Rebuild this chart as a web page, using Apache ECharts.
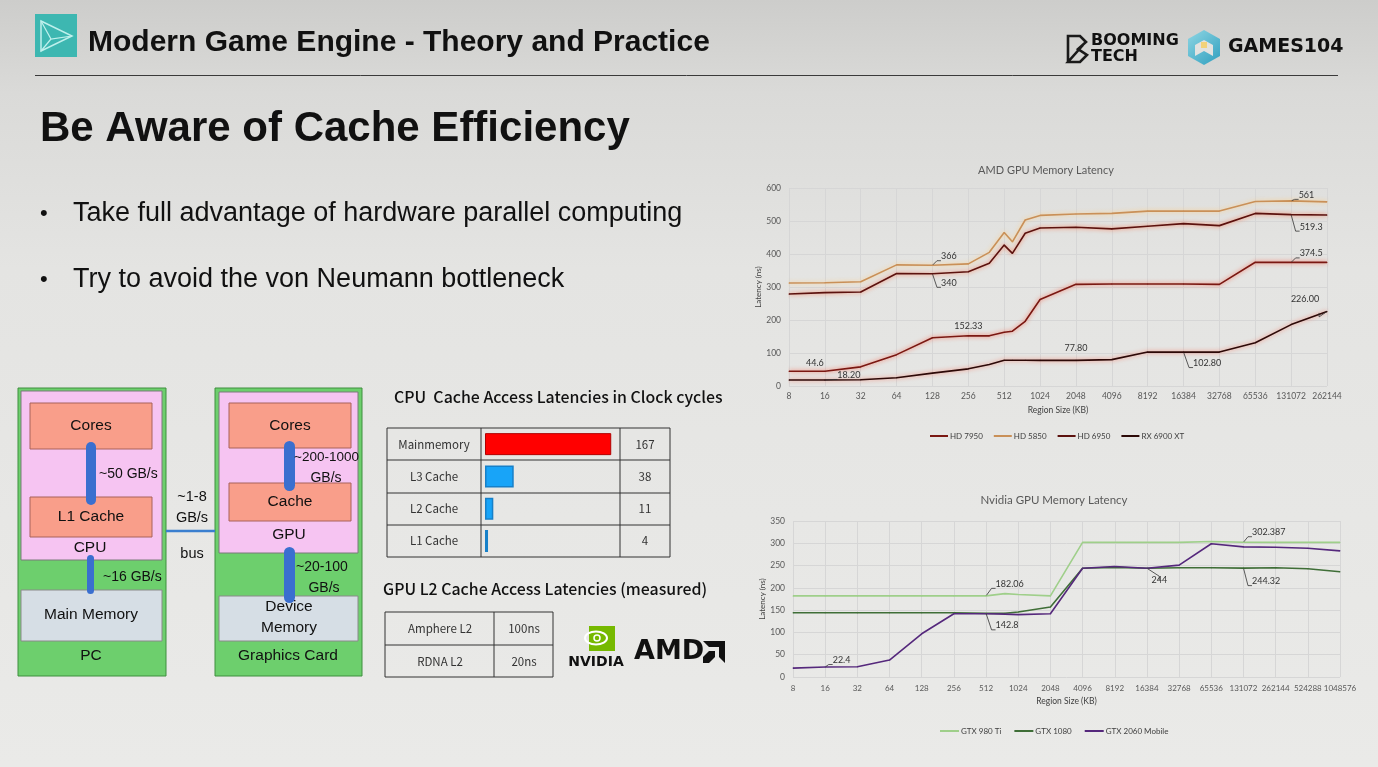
<!DOCTYPE html>
<html lang="en">
<head>
<meta charset="UTF-8">
<title>Be Aware of Cache Efficiency</title>
<script src="https://cdn.jsdelivr.net/npm/echarts@6/dist/echarts.min.js"></script>
<style>
    html, body { margin: 0; padding: 0; }
    body {
        width: 1378px; height: 767px; overflow: hidden;
        background: linear-gradient(180deg, #cdcdcb 0%, #dadad8 12%, #e4e4e2 35%, #eaeae8 100%);
    }
    #slide { width: 1378px; height: 767px; }
</style>
</head>
<body>
<div id="slide"></div>
<script>
// ---- AMD GPU memory latency (ns) ----
const amdSizes = [8, 16, 32, 64, 128, 256, 384, 512, 600, 768, 1024, 2048, 4096, 8192, 16384, 32768, 65536, 131072, 262144];
const hd7950 = [44.6, 44.6, 58, 95, 146, 152.33, 152, 163, 166, 196, 262, 308, 309, 309, 309, 308, 375, 374.5, 374.5];
const hd5850 = [312, 313, 316, 367, 366, 370, 405, 465, 437, 503, 517, 521, 523, 530, 530, 530, 559, 561, 558];
const hd6950 = [279, 283, 285, 341, 340, 346, 372, 427, 402, 463, 479, 481, 476, 484, 492, 486, 523, 519.3, 518];
const rx6900 = [18.2, 18.2, 19, 25, 39, 52, 65, 78, 78, 78, 77.8, 77.8, 80, 102.8, 102.8, 102.8, 131, 186, 226];

// ---- Nvidia GPU memory latency (ns) ----
const nvSizes = [8, 16, 32, 64, 128, 256, 512, 768, 1024, 2048, 4096, 8192, 16384, 32768, 65536, 131072, 262144, 524288, 1048576];
const gtx980 = [182, 182, 182, 182, 182, 182, 182.06, 187, 185, 182, 302, 302, 302, 302, 304, 302.387, 302, 302, 302];
const gtx1080 = [144, 144, 144, 144, 144, 144, 142.8, 143, 146, 157, 244, 246, 244, 245, 245, 244.32, 245, 243, 236];
const gtx2060 = [20, 22.4, 23, 38, 97, 142, 142, 141, 140, 142, 244, 248, 244, 251, 299, 292, 291, 289, 283];

// ---- CPU cache latencies (clock cycles) ----
const cpuLevels = ['Mainmemory', 'L3 Cache', 'L2 Cache', 'L1 Cache'];
const cpuCycles = [167, 38, 11, 4];

// ---- GPU L2 latencies ----
const gpuL2Names = ['Amphere L2', 'RDNA L2'];
const gpuL2Latency = ['100ns', '20ns'];

const SANS = '"Liberation Sans", Arial, sans-serif';
const CJK = '"Noto Sans CJK SC", "Noto Sans", sans-serif';
const XL = 'Lato, "Open Sans", sans-serif';

const chart = echarts.init(document.getElementById('slide'));

function box(x, y, w, h, fill, stroke, lw) {
    return { type: 'rect', shape: { x: x, y: y, width: w, height: h }, style: { fill: fill, stroke: stroke || null, lineWidth: lw || 1 } };
}
function pill(x, y, w, h) {
    return { type: 'rect', shape: { x: x, y: y, width: w, height: h, r: w / 2 }, style: { fill: '#3a6fcf' } };
}
function line(x1, y1, x2, y2, color, w) {
    return { type: 'line', shape: { x1: x1, y1: y1, x2: x2, y2: y2 }, style: { stroke: color || '#333', lineWidth: w || 1 } };
}
function txt(x, y, text, size, o) {
    o = o || {};
    const align = o.align || 'center';
    return {
        type: 'text', x: x, y: y, z: 10,
        style: {
            text: text, fill: o.color || '#111',
            font: (o.weight || 'normal') + ' ' + size + 'px ' + (o.family || SANS),
            textAlign: align, align: align, textVerticalAlign: 'middle', verticalAlign: 'middle'
        }
    };
}

// callouts: data index -> label placement (Excel style leader labels)
const callouts = {
    'HD 7950': { 1: { pos: 'top', off: [-10, 2], d: 1 }, 5: { pos: 'top', off: [0, 0], d: 2 }, 17: { pos: 'right', off: [3, -9], d: 1, line: true } },
    'HD 5850': { 4: { pos: 'right', off: [3, -9], d: 0, line: true }, 17: { pos: 'right', off: [2, -6], d: 0, line: true } },
    'HD 6950': { 4: { pos: 'right', off: [3, 9], d: 0, line: true }, 17: { pos: 'right', off: [3, 12], d: 1, line: true } },
    'RX 6900 XT': { 1: { pos: 'right', off: [7, -5], d: 2, line: true }, 11: { pos: 'top', off: [0, -2], d: 2 }, 14: { pos: 'right', off: [4, 11], d: 2, line: true }, 18: { pos: 'top', off: [-22, -2], d: 2, line: true } },
    'GTX 980 Ti': { 6: { pos: 'right', off: [4, -12], d: 2, line: true }, 15: { pos: 'right', off: [3, -10], d: 3, line: true } },
    'GTX 1080': { 6: { pos: 'right', off: [4, 12], d: 1, line: true }, 15: { pos: 'right', off: [3, 13], d: 2, line: true } },
    'GTX 2060 Mobile': { 1: { pos: 'right', off: [2, -7], d: 1, line: true }, 12: { pos: 'right', off: [-1, 12], d: 0, line: true } }
};

function lineSeries(name, sizes, vals, color, axis, glow) {
    const marks = callouts[name] || {};
    return {
        type: 'line', name: name, xAxisIndex: axis, yAxisIndex: axis,
        data: vals.map(function (v, i) {
            const item = { value: [Math.log2(sizes[i]), v] };
            const c = marks[i];
            if (c) {
                item.label = { show: true, position: c.pos, offset: c.off, formatter: v.toFixed(c.d) };
                item.labelLine = { show: !!c.line };
            }
            return item;
        }),
        symbol: 'circle', symbolSize: 1, showSymbol: true,
        itemStyle: { color: color },
        lineStyle: { color: color, width: 1.6, shadowColor: glow || 'transparent', shadowBlur: glow ? 4 : 0 },
        label: { fontSize: 9, color: '#333', fontFamily: XL },
        labelLine: { length2: 4, lineStyle: { color: '#333', width: 0.8 } },
        emphasis: { disabled: true }
    };
}

const axisText = { color: '#595959', fontSize: 8.5, fontFamily: XL };
const gridLine = { show: true, lineStyle: { color: '#d6d6d6', width: 1 } };
const pow2 = function (v) { return String(Math.round(Math.pow(2, v))); };

const option = {
    animation: false,
    textStyle: { fontFamily: XL },
    grid: [
        { left: 789, top: 188, width: 538, height: 198 },
        { left: 793, top: 521, width: 547, height: 156 },
        { left: 485, top: 428, width: 130, height: 129 }
    ],
    xAxis: [
        { type: 'value', gridIndex: 0, min: 3, max: 18, interval: 1, axisLabel: Object.assign({ formatter: pow2, margin: 6 }, axisText),
          axisLine: { show: false }, axisTick: { show: false }, splitLine: gridLine,
          name: 'Region Size (KB)', nameLocation: 'middle', nameGap: 20, nameTextStyle: { color: '#404040', fontSize: 8.5, fontFamily: XL } },
        { type: 'value', gridIndex: 1, min: 3, max: 20, interval: 1, axisLabel: Object.assign({ formatter: pow2, margin: 7 }, axisText, { fontSize: 8 }),
          axisLine: { show: false }, axisTick: { show: false }, splitLine: gridLine,
          name: 'Region Size (KB)', nameLocation: 'middle', nameGap: 20, nameTextStyle: { color: '#404040', fontSize: 8.5, fontFamily: XL } },
        { type: 'value', gridIndex: 2, min: 0, max: 172, show: false }
    ],
    yAxis: [
        { type: 'value', gridIndex: 0, min: 0, max: 600, interval: 100, axisLabel: axisText,
          axisLine: { show: false }, axisTick: { show: false }, splitLine: gridLine,
          name: 'Latency (ns)', nameLocation: 'middle', nameGap: 24, nameTextStyle: { color: '#404040', fontSize: 8, fontFamily: XL } },
        { type: 'value', gridIndex: 1, min: 0, max: 350, interval: 50, axisLabel: axisText,
          axisLine: { show: false }, axisTick: { show: false }, splitLine: gridLine,
          name: 'Latency (ns)', nameLocation: 'middle', nameGap: 24, nameTextStyle: { color: '#404040', fontSize: 8, fontFamily: XL } },
        { type: 'category', gridIndex: 2, data: cpuLevels, inverse: true,
          axisLine: { show: false }, axisTick: { show: false },
          axisLabel: { align: 'center', margin: 51, color: '#333', fontSize: 11.5, fontFamily: CJK } },
        { type: 'category', gridIndex: 2, data: cpuCycles.map(String), inverse: true, position: 'right',
          axisLine: { show: false }, axisTick: { show: false },
          axisLabel: { align: 'center', margin: 30, color: '#333', fontSize: 11.5, fontFamily: CJK } }
    ],
    legend: [
        { data: ['HD 7950', 'HD 5850', 'HD 6950', 'RX 6900 XT'], left: 925, top: 427, icon: 'rect', itemWidth: 18, itemHeight: 2, itemGap: 11,
          textStyle: { fontSize: 8, color: '#404040', fontFamily: XL, padding: [0, 0, 0, -3] }, selectedMode: false },
        { data: ['GTX 980 Ti', 'GTX 1080', 'GTX 2060 Mobile'], left: 935, top: 722, icon: 'rect', itemWidth: 19, itemHeight: 2, itemGap: 13,
          textStyle: { fontSize: 8, color: '#404040', fontFamily: XL, padding: [0, 0, 0, -3] }, selectedMode: false }
    ],
    series: [
        lineSeries('HD 7950', amdSizes, hd7950, '#7a1812', 0, 'rgba(255,70,40,0.75)'),
        lineSeries('HD 5850', amdSizes, hd5850, '#c99058', 0, 'rgba(255,205,130,0.9)'),
        lineSeries('HD 6950', amdSizes, hd6950, '#5c120e', 0, 'rgba(255,90,40,0.75)'),
        lineSeries('RX 6900 XT', amdSizes, rx6900, '#2c0907', 0, 'rgba(255,70,40,0.6)'),
        lineSeries('GTX 980 Ti', nvSizes, gtx980, '#9fcf8a', 1),
        lineSeries('GTX 1080', nvSizes, gtx1080, '#3f6e37', 1),
        lineSeries('GTX 2060 Mobile', nvSizes, gtx2060, '#55287c', 1),
        {
            type: 'bar', xAxisIndex: 2, yAxisIndex: 2, barWidth: 22,
            data: cpuCycles.map(function (v, i) {
                return i === 0
                    ? { value: v, itemStyle: { color: '#ff0000', borderColor: '#b00000', borderWidth: 1 } }
                    : { value: v, itemStyle: { color: '#18a4f8', borderColor: '#1780c8', borderWidth: 1.5 } };
            }),
            emphasis: { disabled: true }
        }
    ],
    graphic: []
};

const g = option.graphic;

// header
g.push({ type: 'rect', shape: { x: 35, y: 14, width: 42, height: 43 }, style: { fill: '#3db7b1' } });
g.push({ type: 'polygon', shape: { points: [[41, 21], [72, 36], [41, 51]] }, style: { fill: null, stroke: '#bff0ec', lineWidth: 1.5 } });
g.push({ type: 'polyline', shape: { points: [[41, 21], [51, 39], [72, 36]] }, style: { stroke: '#bff0ec', lineWidth: 1.2 } });
g.push({ type: 'line', shape: { x1: 51, y1: 39, x2: 41, y2: 51 }, style: { stroke: '#bff0ec', lineWidth: 1.2 } });
g.push(txt(88, 43, 'Modern Game Engine - Theory and Practice', 30, { align: 'left', weight: 'bold' }));
g.push(line(35, 75.5, 1338, 75.5, '#3a3a3a', 1));

// Booming Tech + GAMES104 logos
g.push({ type: 'polyline', shape: { points: [[1068, 62], [1068, 36], [1080, 36], [1086, 42], [1078, 49], [1087, 55], [1080, 62], [1068, 62], [1083, 45]] }, style: { stroke: '#1a1a1a', lineWidth: 2.6, fill: null } });
g.push(txt(1091, 41, 'BOOMING', 16, { align: 'left', weight: 'bold', family: '"DejaVu Sans", sans-serif' }));
g.push(txt(1091, 57, 'TECH', 16, { align: 'left', weight: 'bold', family: '"DejaVu Sans", sans-serif' }));
g.push({ type: 'polygon', shape: { points: [[1204, 30], [1220, 39], [1220, 56], [1204, 65], [1188, 56], [1188, 39]] },
         style: { fill: new echarts.graphic.LinearGradient(0, 0, 1, 1, [{ offset: 0, color: '#8fd6e3' }, { offset: 1, color: '#2f9fbf' }]) } });
g.push({ type: 'polygon', shape: { points: [[1204, 40], [1213, 45], [1213, 56], [1204, 51], [1195, 56], [1195, 45]] }, style: { fill: '#e2e2e0' } });
g.push({ type: 'rect', shape: { x: 1201, y: 42, width: 6, height: 6 }, style: { fill: '#f2d27a' } });
g.push(txt(1228, 47, 'GAMES104', 19, { align: 'left', weight: 'bold', family: '"DejaVu Sans", sans-serif' }));

// title and bullets
g.push(txt(40, 129, 'Be Aware of Cache Efficiency', 42, { align: 'left', weight: 'bold' }));
g.push(txt(40, 214, '\u2022', 22, { align: 'left' }));
g.push(txt(73, 214, 'Take full advantage of hardware parallel computing', 27, { align: 'left' }));
g.push(txt(40, 280, '\u2022', 22, { align: 'left' }));
g.push(txt(73, 280, 'Try to avoid the von Neumann bottleneck', 27, { align: 'left' }));

// PC / graphics card diagram
const green = '#6dcf6d', greenLine = '#3f8f3f', pink = '#f6c4f2', salmon = '#f99e8a', salmonLine = '#a8625a', mem = '#d6dee5';
g.push(box(18, 388, 148, 288, green, greenLine));
g.push(box(21, 391, 141, 169, pink, '#7a7a7a'));
g.push(box(30, 403, 122, 46, salmon, salmonLine));
g.push(box(30, 497, 122, 40, salmon, salmonLine));
g.push(box(21, 590, 141, 51, mem, '#8a8a8a'));
g.push(pill(86, 442, 10, 63));
g.push(pill(87, 555, 7, 39));
g.push(txt(91, 426, 'Cores', 15.5));
g.push(txt(91, 517, 'L1 Cache', 15.5));
g.push(txt(99, 474, '~50 GB/s', 14, { align: 'left' }));
g.push(txt(90, 548, 'CPU', 15.5));
g.push(txt(103, 577, '~16 GB/s', 14, { align: 'left' }));
g.push(txt(91, 615, 'Main Memory', 15.5));
g.push(txt(91, 656, 'PC', 15.5));

g.push(box(215, 388, 147, 288, green, greenLine));
g.push(box(219, 392, 139, 161, pink, '#7a7a7a'));
g.push(box(229, 403, 122, 45, salmon, salmonLine));
g.push(box(229, 483, 122, 38, salmon, salmonLine));
g.push(box(219, 596, 139, 45, mem, '#8a8a8a'));
g.push(pill(284, 441, 11, 50));
g.push(pill(284, 547, 11, 56));
g.push(txt(290, 426, 'Cores', 15.5));
g.push(txt(290, 502, 'Cache', 15.5));
g.push(txt(294, 457, '~200-1000', 13.5, { align: 'left' }));
g.push(txt(326, 478, 'GB/s', 14));
g.push(txt(289, 535, 'GPU', 15.5));
g.push(txt(296, 567, '~20-100', 14, { align: 'left' }));
g.push(txt(324, 588, 'GB/s', 14));
g.push(txt(289, 607, 'Device', 15.5));
g.push(txt(289, 628, 'Memory', 15.5));
g.push(txt(288, 656, 'Graphics Card', 15.5));

g.push(line(166, 531, 215, 531, '#3a7fcf', 2.5));
g.push(txt(192, 497, '~1-8', 14.5));
g.push(txt(192, 518, 'GB/s', 14.5));
g.push(txt(192, 554, 'bus', 14.5));

// CPU table frame
g.push(txt(394, 397, 'CPU  Cache Access Latencies in Clock cycles', 15.9, { align: 'left', family: CJK, weight: '500' }));
g.push(box(387, 428, 283, 129, null, '#333'));
[460, 493, 525].forEach(function (y) { g.push(line(387, y, 670, y, '#333')); });
[481, 620].forEach(function (x) { g.push(line(x, 428, x, 557, '#333')); });

// GPU table
g.push(txt(383, 589, 'GPU L2 Cache Access Latencies (measured)', 15.9, { align: 'left', family: CJK, weight: '500' }));
g.push(box(385, 612, 168, 65, null, '#333'));
g.push(line(385, 645, 553, 645, '#333'));
g.push(line(494, 612, 494, 677, '#333'));
gpuL2Names.forEach(function (n, i) {
    g.push(txt(440, 629 + i * 33, n, 11.5, { family: CJK, color: '#333' }));
    g.push(txt(524, 629 + i * 33, gpuL2Latency[i], 11.5, { family: CJK, color: '#333' }));
});

// vendor logos
g.push({ type: 'rect', shape: { x: 589, y: 626, width: 26, height: 25 }, style: { fill: '#76b900' } });
g.push({ type: 'ellipse', shape: { cx: 596, cy: 638, rx: 11, ry: 6.5 }, style: { fill: null, stroke: '#ffffff', lineWidth: 2 } });
g.push({ type: 'circle', shape: { cx: 597, cy: 638, r: 3 }, style: { fill: '#76b900', stroke: '#ffffff', lineWidth: 1.5 } });
g.push(txt(596, 662, 'NVIDIA', 14, { weight: 'bold', family: '"DejaVu Sans", sans-serif', color: '#111' }));
g.push(txt(634, 652, 'AMD', 27, { align: 'left', weight: 'bold', family: '"DejaVu Sans", sans-serif', color: '#111' }));
g.push({ type: 'polygon', shape: { points: [[703, 641], [725, 641], [725, 663], [719, 657], [719, 647], [709, 647]] }, style: { fill: '#111' } });
g.push({ type: 'polygon', shape: { points: [[709, 651], [715, 651], [715, 657], [709, 663], [703, 663], [703, 657]] }, style: { fill: '#111' } });

// chart titles
g.push(txt(1046, 170, 'AMD GPU Memory Latency', 11, { family: XL, color: '#595959' }));
g.push(txt(1054, 500, 'Nvidia GPU Memory Latency', 11.5, { family: XL, color: '#595959' }));

chart.setOption(option);
window.addEventListener('resize', function () { chart.resize(); });
</script>
</body>
</html>
